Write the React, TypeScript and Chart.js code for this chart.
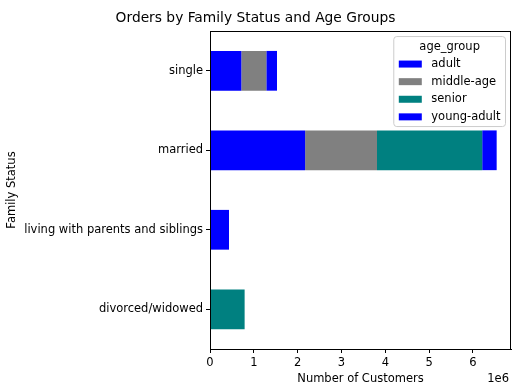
import React, { useEffect, useRef } from "react";
import { Chart, registerables } from "chart.js";

Chart.register(...registerables);

const categories = ["single", "married", "living with parents and siblings", "divorced/widowed"];
const seriesNames = ["adult", "middle-age", "senior", "young-adult"];
const adult = [715000, 2170000, 0, 0];
const middleAge = [570000, 1640000, 0, 0];
const senior = [0, 2400000, 0, 790000];
const youngAdult = [244000, 330000, 434000, 0];
const seriesColors = ["#0000ff", "#808080", "#008080", "#0000ff"];
const xTickStep = 1000000;

const FONT = "'DejaVu Sans', sans-serif";
const FS = 11.5;
const TFS = 13.8;

const framePlugin = {
  id: "frame",
  afterDraw(chart: any) {
    const { ctx, chartArea: ca } = chart;
    ctx.save();
    ctx.strokeStyle = "#000";
    ctx.lineWidth = 1;
    ctx.strokeRect(Math.round(ca.left) + 0.5, Math.round(ca.top) + 0.5, Math.round(ca.right - ca.left) - 1, Math.round(ca.bottom - ca.top));

    // offset text
    ctx.fillStyle = "#000";
    ctx.font = `${FS}px ${FONT}`;
    ctx.textAlign = "right";
    ctx.textBaseline = "middle";
    ctx.fillText("1e6", ca.right - 2, ca.bottom + 30);

    // legend
    const ds = chart.data.datasets;
    let maxW = ctx.measureText("age_group").width;
    ds.forEach((d: any) => {
      maxW = Math.max(maxW, ctx.measureText(d.label).width);
    });
    const w = 5 + 23 + 9.5 + maxW + 5;
    const right = ca.right - 5.5;
    const left = right - w;
    const top = ca.top + 5.5;
    const h = 90;
    const r = 3;
    ctx.beginPath();
    ctx.moveTo(left + r, top);
    ctx.lineTo(right - r, top);
    ctx.quadraticCurveTo(right, top, right, top + r);
    ctx.lineTo(right, top + h - r);
    ctx.quadraticCurveTo(right, top + h, right - r, top + h);
    ctx.lineTo(left + r, top + h);
    ctx.quadraticCurveTo(left, top + h, left, top + h - r);
    ctx.lineTo(left, top + r);
    ctx.quadraticCurveTo(left, top, left + r, top);
    ctx.closePath();
    ctx.fillStyle = "rgba(255,255,255,0.8)";
    ctx.fill();
    ctx.strokeStyle = "#cccccc";
    ctx.stroke();

    ctx.fillStyle = "#000";
    ctx.textAlign = "center";
    ctx.fillText("age_group", (left + right) / 2, top + 10.5);
    ctx.textAlign = "left";
    ds.forEach((d: any, i: number) => {
      const cy = top + 27.5 + i * 17.6;
      ctx.fillStyle = d.backgroundColor;
      ctx.fillRect(left + 5, cy - 3.5, 23, 7);
      ctx.fillStyle = "#000";
      ctx.fillText(d.label, left + 5 + 23 + 9.5, cy);
    });
    ctx.restore();
  },
};

export default function App() {
  const ref = useRef<HTMLCanvasElement | null>(null);
  useEffect(() => {
    document.body.style.margin = "0";
    const seriesData = [adult, middleAge, senior, youngAdult];
    const totals = categories.map((_, i) => seriesData.reduce((s, arr) => s + arr[i], 0));
    const xMax = Math.max(...totals) * 1.05;
    const nTicks = Math.floor(xMax / xTickStep) + 1;
    const chart = new Chart(ref.current as HTMLCanvasElement, {
      type: "bar",
      data: {
        labels: categories,
        datasets: seriesNames.map((name, i) => ({
          label: name,
          data: seriesData[i],
          backgroundColor: seriesColors[i],
          borderWidth: 0,
          barPercentage: 0.5,
          categoryPercentage: 1,
        })),
      },
      options: {
        indexAxis: "y",
        animation: false,
        responsive: false,
        layout: { padding: { left: 0, right: 14, top: 0, bottom: 0 } },
        plugins: {
          legend: { display: false },
          tooltip: { enabled: false },
          title: {
            display: true,
            text: "Orders by Family Status and Age Groups",
            color: "#000",
            font: { family: FONT, size: TFS, weight: "normal" },
            padding: { top: 10.5, bottom: 4 },
          },
        },
        scales: {
          x: {
            stacked: true,
            bounds: "data",
            min: 0,
            max: xMax,
            grid: { display: true, drawOnChartArea: false, drawTicks: true, tickLength: 4, color: "#000" },
            border: { display: true, color: "#000" },
            afterBuildTicks: (scale: any) => {
              scale.ticks = Array.from({ length: nTicks }, (_, i) => ({ value: i * xTickStep }));
            },
            afterFit: (scale: any) => {
              scale.height = 43;
            },
            ticks: {
              stepSize: xTickStep,
              autoSkip: false,
              padding: 3,
              color: "#000",
              font: { family: FONT, size: FS },
              callback: (v: any) => String(Math.round(Number(v) / 1e6)),
            },
            title: {
              display: true,
              text: "Number of Customers",
              color: "#000",
              font: { family: FONT, size: FS },
              padding: { top: 2.3, bottom: 6 },
            },
          },
          y: {
            stacked: true,
            offset: true,
            grid: { display: true, drawOnChartArea: false, drawTicks: true, tickLength: 4, color: "#000", offset: false },
            border: { display: true, color: "#000" },
            ticks: {
              padding: 3,
              color: "#000",
              font: { family: FONT, size: FS },
            },
            title: {
              display: true,
              text: "Family Status",
              color: "#000",
              font: { family: FONT, size: FS },
              padding: { top: 5, bottom: 7 },
            },
            afterFit: (scale: any) => {
              scale.width = 210;
            },
          },
        },
      },
      plugins: [framePlugin],
    } as any);
    return () => chart.destroy();
  }, []);
  return (
    <div style={{ position: "absolute", left: 0, top: 0, width: 525, height: 392 }}>
      <canvas ref={ref} width={525} height={392} />
    </div>
  );
}
